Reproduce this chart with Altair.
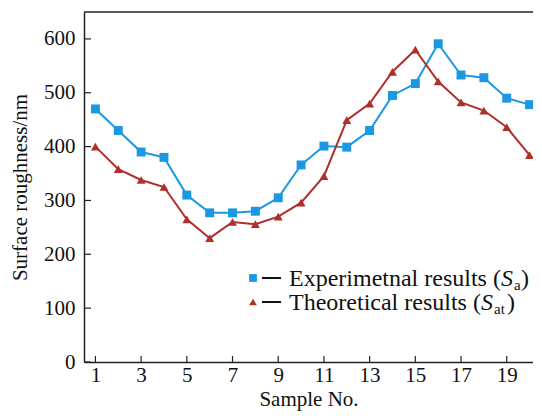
import altair as alt
import pandas as pd

samples = list(range(1, 21))
experimental = [470, 430, 390, 380, 310, 277, 277, 280, 305, 366, 401, 399, 430, 495, 517, 591, 533, 528, 490, 478]
theoretical = [400, 358, 338, 325, 265, 230, 260, 256, 270, 296, 345, 449, 480, 539, 580, 521, 482, 467, 436, 384]
x_ticks = [1, 3, 5, 7, 9, 11, 13, 15, 17, 19]
y_ticks = [0, 100, 200, 300, 400, 500, 600]

BLUE = "#1a98e2"
RED = "#ae2f2c"
FONT = "Liberation Serif"
W, H = 449, 350

df = pd.DataFrame({
    "sample": samples * 2,
    "value": experimental + theoretical,
    "series": ["Experimental"] * 20 + ["Theoretical"] * 20,
})

xs = alt.Scale(domain=[0.5, 20.15], nice=False, zero=False)
ys = alt.Scale(domain=[0, 650], nice=False)
color = alt.Color("series:N", scale=alt.Scale(domain=["Experimental", "Theoretical"], range=[BLUE, RED]), legend=None)

base = alt.Chart(df).encode(
    x=alt.X("sample:Q", scale=xs, axis=alt.Axis(values=x_ticks, title="Sample No.", ticks=False, grid=False,
                                               labelPadding=2, titlePadding=3)),
    y=alt.Y("value:Q", scale=ys, axis=alt.Axis(values=y_ticks, title="Surface roughness/nm", ticks=False, grid=False,
                                              labelPadding=9, titlePadding=13)),
    color=color,
)

lines = base.mark_line(strokeWidth=2)
points = base.mark_point(filled=True, size=80, opacity=1).encode(
    shape=alt.Shape("series:N", scale=alt.Scale(domain=["Experimental", "Theoretical"], range=["square", "triangle-up"]), legend=None)
)

xt = alt.Chart(pd.DataFrame({"t": x_ticks})).mark_rule(color="#222", strokeWidth=1.2).encode(
    x=alt.X("t:Q", scale=xs), y=alt.value(H), y2=alt.value(H - 6))
yt = alt.Chart(pd.DataFrame({"t": y_ticks})).mark_rule(color="#222", strokeWidth=1.2).encode(
    y=alt.Y("t:Q", scale=ys), x=alt.value(0), x2=alt.value(7))
top = alt.Chart(pd.DataFrame({"a": [0]})).mark_rule(color="#222", strokeWidth=1.5).encode(
    x=alt.value(0), x2=alt.value(W), y=alt.value(0))

def txt(s, x, y, size=24, style="normal", align="left"):
    return alt.Chart(pd.DataFrame({"t": [s]})).mark_text(
        font=FONT, fontSize=size, fontStyle=style, align=align, baseline="alphabetic", color="#111"
    ).encode(text="t:N", x=alt.value(x), y=alt.value(y))

r1, r2 = 266, 290
leg = [
    alt.Chart(pd.DataFrame({"a": [0]})).mark_point(shape="square", filled=True, size=60, color=BLUE, opacity=1).encode(x=alt.value(169), y=alt.value(r1)),
    alt.Chart(pd.DataFrame({"a": [0]})).mark_point(shape="triangle-up", filled=True, size=60, color=RED, opacity=1).encode(x=alt.value(169), y=alt.value(r2)),
    alt.Chart(pd.DataFrame({"a": [0]})).mark_rule(color="#111", strokeWidth=2).encode(x=alt.value(178), x2=alt.value(197), y=alt.value(r1)),
    alt.Chart(pd.DataFrame({"a": [0]})).mark_rule(color="#111", strokeWidth=2).encode(x=alt.value(178), x2=alt.value(197), y=alt.value(r2)),
    txt("Experimetnal results (", 205, r1 + 8),
    txt("S", 417, r1 + 8, style="italic"),
    txt("a", 430, r1 + 12, size=15),
    txt(")", 437, r1 + 8),
    txt("Theoretical results (", 205, r2 + 8),
    txt("S", 397, r2 + 8, style="italic"),
    txt("at", 410, r2 + 12, size=15),
    txt(")", 423, r2 + 8),
]

chart = alt.layer(lines, points, xt, yt, top, *leg).properties(
    width=W, height=H,
    padding={"left": 76, "top": 4, "right": 0, "bottom": 54},
    autosize=alt.AutoSizeParams(type="none"),
).configure_view(stroke=None).configure_axis(
    domainColor="#222", domainWidth=1.5, labelFont=FONT, titleFont=FONT, labelFontSize=21, titleFontSize=21,
    labelColor="#111", titleColor="#111", titleFontWeight="normal"
)

chart.save("out.html", embed_options={"renderer": "svg", "actions": False})
